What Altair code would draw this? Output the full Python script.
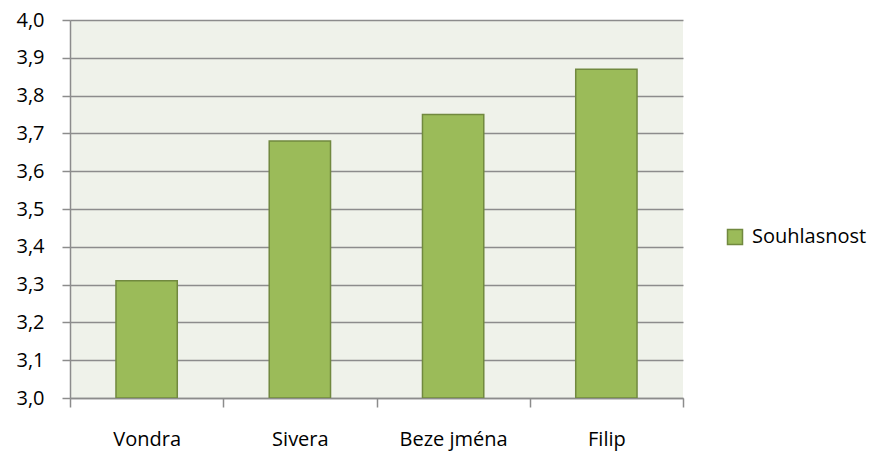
import altair as alt
import pandas as pd

categories = ["Vondra", "Sivera", "Beze jména", "Filip"]
values = [3.31, 3.68, 3.75, 3.87]
series_name = "Souhlasnost"
y_ticks = [3.0, 3.1, 3.2, 3.3, 3.4, 3.5, 3.6, 3.7, 3.8, 3.9, 4.0]
y_base = 3.0

df = pd.DataFrame({
    "kategorie": categories,
    "hodnota": values,
    "zaklad": [y_base] * len(categories),
    "serie": [series_name] * len(categories),
})

FONT = "Open Sans"
GRID = "#8C8C8C"

chart = alt.Chart(df).mark_bar(
    stroke="#71893F", strokeWidth=1.5, clip=True, width={"band": 0.4}
).encode(
    x=alt.X(
        "kategorie:N",
        sort=categories,
        scale=alt.Scale(paddingInner=0, paddingOuter=0),
        axis=alt.Axis(
            title=None, labelAngle=0, tickBand="extent", tickSize=9,
            tickColor=GRID, domainColor=GRID, tickWidth=1.5, domainWidth=1.5,
            labelPadding=22, labelFont=FONT, labelFontSize=20,
            labelColor="#000000", grid=False,
        ),
    ),
    y=alt.Y(
        "hodnota:Q",
        scale=alt.Scale(domain=[3.0, 4.0], zero=False, nice=False),
        axis=alt.Axis(
            title=None, values=y_ticks,
            labelExpr="replace(format(datum.value, '.1f'), '.', ',')",
            tickSize=8, tickColor=GRID, domainColor=GRID, gridColor=GRID,
            tickWidth=1.5, domainWidth=1.5, gridWidth=1.5,
            grid=True, labelPadding=18, labelFont=FONT, labelFontSize=20,
            labelColor="#000000",
        ),
    ),
    y2="zaklad:Q",
    color=alt.Color(
        "serie:N",
        scale=alt.Scale(range=["#9BBB59"]),
        legend=alt.Legend(
            title=None, orient="none", legendX=655, legendY=207,
            symbolType="square", symbolSize=225, symbolStrokeColor="#71893F",
            symbolStrokeWidth=1.5, labelFont=FONT, labelFontSize=20,
            labelColor="#000000", labelOffset=7, padding=0,
        ),
    ),
).properties(
    width=613, height=378,
    padding={"left": 62, "top": 12, "right": 189, "bottom": 54},
    autosize=alt.AutoSizeParams(type="none"),
).configure_view(fill="#EFF2EA", stroke=None)

chart.save("out.html", embed_options={"renderer": "svg", "actions": False})
